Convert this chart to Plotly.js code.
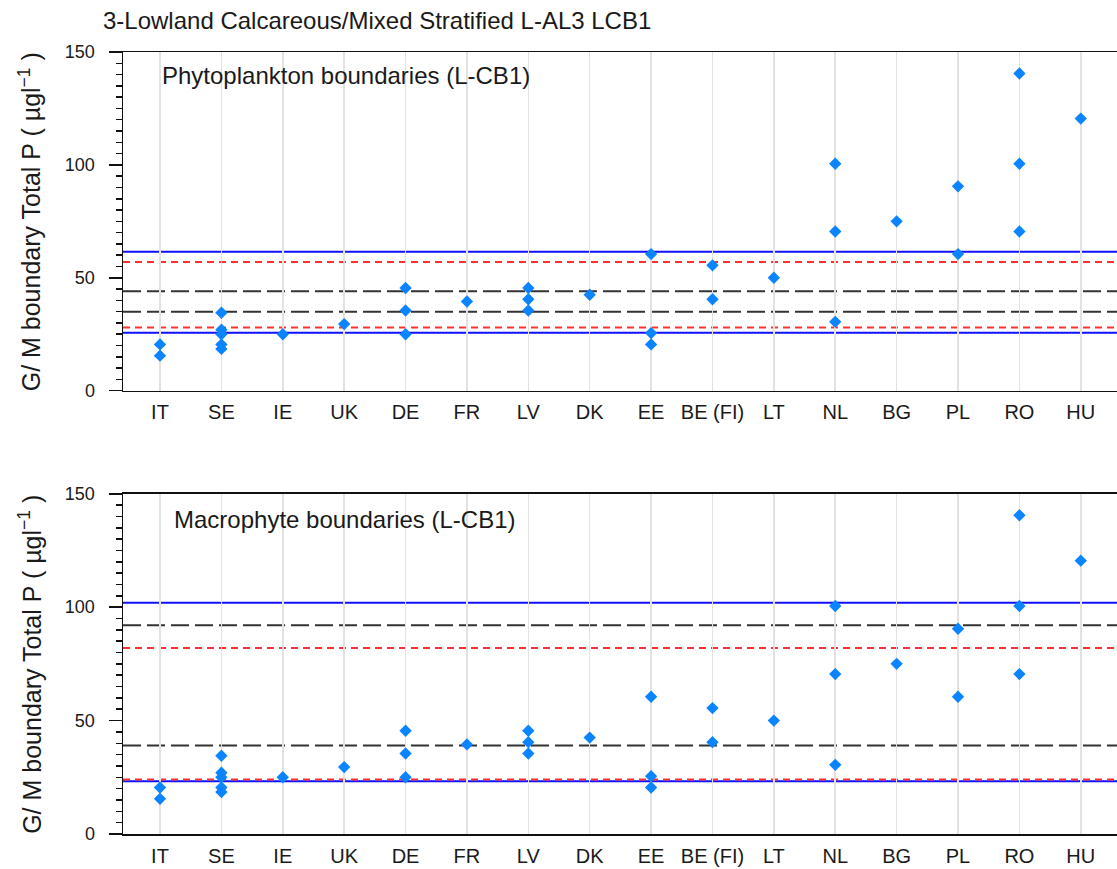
<!DOCTYPE html>
<html>
<head>
<meta charset="utf-8">
<script src="https://cdn.plot.ly/plotly-3.0.1.min.js"></script>
<style>
  html, body { margin: 0; padding: 0; background: #ffffff; }
  #chart { width: 1117px; height: 869px; }
</style>
</head>
<body>
<div id="chart"></div>
<script>
// Member-state countries on the category axis
const countries = ['IT', 'SE', 'IE', 'UK', 'DE', 'FR', 'LV', 'DK', 'EE', 'BE (FI)', 'LT', 'NL', 'BG', 'PL', 'RO', 'HU'];

// National good/moderate total-P boundaries (µg/l), one entry per boundary
const boundaryCountry = [
  'IT', 'IT',
  'SE', 'SE', 'SE', 'SE', 'SE',
  'IE',
  'UK',
  'DE', 'DE', 'DE',
  'FR',
  'LV', 'LV', 'LV',
  'DK',
  'EE', 'EE', 'EE',
  'BE (FI)', 'BE (FI)',
  'LT',
  'NL', 'NL', 'NL',
  'BG',
  'PL', 'PL',
  'RO', 'RO', 'RO',
  'HU'
];
const boundaryTP = [
  20.5, 15.5,
  34.5, 27, 25, 20.5, 18.5,
  25,
  29.5,
  45.5, 35.5, 25,
  39.5,
  45.5, 40.5, 35.5,
  42.5,
  60.5, 25.5, 20.5,
  55.5, 40.5,
  50,
  100.5, 70.5, 30.5,
  75,
  90.5, 60.5,
  140.5, 100.5, 70.5,
  120.5
];

// Reference bands for each biological element (upper, lower)
const phytoBlue = [61.5, 25.7];
const phytoRed = [57, 28];
const phytoBlack = [44, 35];
const macroBlue = [102, 23.2];
const macroRed = [82, 24];
const macroBlack = [92, 39];

const panelLabels = ['Phytoplankton boundaries (L-CB1)', 'Macrophyte boundaries (L-CB1)'];
const chartTitle = '3-Lowland Calcareous/Mixed Stratified L-AL3 LCB1';
const yTitle = 'G/ M boundary Total P ( µgl<sup>−1</sup> )';

const fontFamily = 'Liberation Sans, Arial, sans-serif';
const markerColor = '#0a84ff';

function pointsTrace(xa, ya) {
  return {
    type: 'scatter', mode: 'markers',
    x: boundaryCountry, y: boundaryTP,
    xaxis: xa, yaxis: ya,
    marker: { symbol: 'diamond', size: 9.5, color: markerColor, line: { width: 0 } },
    hoverinfo: 'x+y', showlegend: false
  };
}

function hLines(values, color, dash, xref, yref) {
  return values.map(v => ({
    type: 'line', xref: xref + ' domain', yref: yref,
    x0: 0, x1: 1, y0: v, y1: v, layer: 'below',
    line: { color: color, width: 2, dash: dash }
  }));
}

function xAxis(anchor) {
  return {
    type: 'category', categoryorder: 'array', categoryarray: countries,
    range: [-0.603, 15.59], anchor: anchor,
    showgrid: true, gridcolor: '#e2e2e2', gridwidth: 1.5,
    ticks: '', ticklabelstandoff: 3,
    tickfont: { family: fontFamily, size: 20, color: '#1a1a1a' },
    showline: true, mirror: true, linecolor: '#111', linewidth: 1.5,
    zeroline: false, fixedrange: true
  };
}

function yAxis(anchor, domain) {
  return {
    range: [0, 150], domain: domain, anchor: anchor,
    tickvals: [0, 50, 100, 150],
    ticks: 'outside', ticklen: 13, tickwidth: 1.5, tickcolor: '#111',
    minor: { dtick: 5, tick0: 0, ticks: 'outside', ticklen: 6, tickwidth: 1.5, tickcolor: '#111', showgrid: false },
    ticklabelstandoff: 10,
    tickfont: { family: fontFamily, size: 18, color: '#1a1a1a' },
    showgrid: false, zeroline: false,
    showline: true, linecolor: '#111', linewidth: 1.5, fixedrange: true
  };
}

const data = [pointsTrace('x', 'y'), pointsTrace('x2', 'y2')];

const shapes = [].concat(
  hLines(phytoBlue, '#1010ff', 'solid', 'x', 'y'),
  hLines(phytoRed, '#ff3030', '7px,5px', 'x', 'y'),
  hLines(phytoBlack, '#333333', '18px,6px', 'x', 'y'),
  hLines(macroBlue, '#1010ff', 'solid', 'x2', 'y2'),
  hLines(macroRed, '#ff3030', '7px,5px', 'x2', 'y2'),
  hLines(macroBlack, '#333333', '18px,6px', 'x2', 'y2')
);

const annotations = [
  {
    text: panelLabels[0], xref: 'x domain', yref: 'y domain',
    x: 0.0372, y: 0.93, xanchor: 'left', yanchor: 'middle', showarrow: false,
    font: { family: fontFamily, size: 24, color: '#1a1a1a' }
  },
  {
    text: panelLabels[1], xref: 'x2 domain', yref: 'y2 domain',
    x: 0.0493, y: 0.924, xanchor: 'left', yanchor: 'middle', showarrow: false,
    font: { family: fontFamily, size: 24, color: '#1a1a1a' }
  },
  {
    text: yTitle, xref: 'paper', yref: 'y domain', textangle: -90,
    x: -0.0936, y: 0.5, xanchor: 'center', yanchor: 'middle', showarrow: false,
    font: { family: fontFamily, size: 25, color: '#1a1a1a' }
  },
  {
    text: yTitle, xref: 'paper', yref: 'y2 domain', textangle: -90,
    x: -0.0936, y: 0.5, xanchor: 'center', yanchor: 'middle', showarrow: false,
    font: { family: fontFamily, size: 25, color: '#1a1a1a' }
  }
];

const layout = {
  width: 1117, height: 869,
  margin: { l: 123, r: 0, t: 52, b: 35 },
  paper_bgcolor: '#ffffff', plot_bgcolor: '#ffffff',
  title: {
    text: chartTitle, xref: 'container', yref: 'container',
    x: 103 / 1117, xanchor: 'left', y: 1 - 21 / 869, yanchor: 'middle',
    font: { family: fontFamily, size: 24, color: '#1a1a1a' }
  },
  xaxis: xAxis('y'),
  yaxis: yAxis('x', [0.5669, 1]),
  xaxis2: xAxis('y2'),
  yaxis2: yAxis('x2', [0, 0.4351]),
  shapes: shapes,
  annotations: annotations,
  showlegend: false
};

Plotly.newPlot('chart', data, layout, { displayModeBar: false, staticPlot: true });
</script>
</body>
</html>
